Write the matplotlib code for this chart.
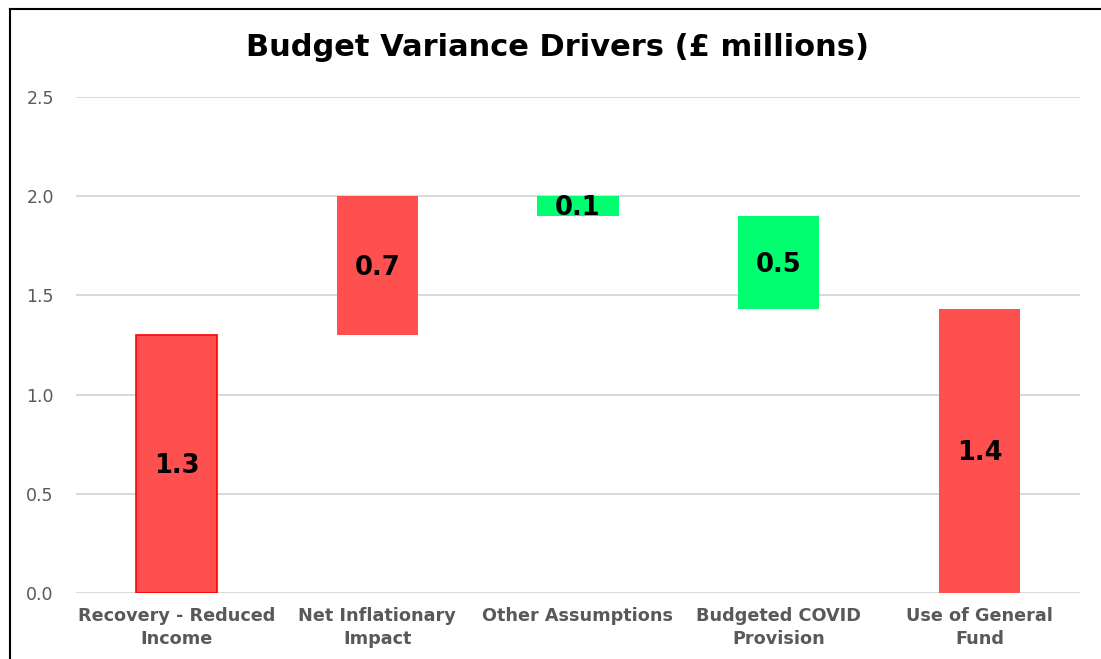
import matplotlib
matplotlib.use("Agg")
import matplotlib.pyplot as plt
from matplotlib.lines import Line2D
from matplotlib.transforms import offset_copy

plt.rcParams['font.family'] = ['DejaVu Sans']

categories = ["Recovery - Reduced\nIncome", "Net Inflationary\nImpact", "Other Assumptions",
              "Budgeted COVID\nProvision", "Use of General\nFund"]
changes = [1.3, 0.7, -0.1, -0.47, 1.43]
is_total = [False, False, False, False, True]
yticks = [0.0, 0.5, 1.0, 1.5, 2.0, 2.5]

RED = "#FF5050"
GREEN = "#00FF70"

fig = plt.figure(figsize=(11.01, 6.59), dpi=100)
ax = fig.add_axes([76/1101, 1-593/659, (1080-76)/1101, (593-97)/659])
label_tr = offset_copy(ax.transData, fig=fig, x=0, y=-2, units="dots")

running = 0.0
for i, (c, tot) in enumerate(zip(changes, is_total)):
    if tot:
        bottom, height = 0.0, c
    else:
        bottom, height = running, c
        running += c
    color = RED if (c > 0) else GREEN
    ec = "#FF0000" if i == 0 else "none"
    ax.bar(i, height, bottom=bottom, width=0.405, color=color, edgecolor=ec,
           linewidth=1.2, zorder=3)
    ax.text(i, bottom + height/2, f"{abs(c):.1f}", ha="center", va="center",
            fontsize=18.5, fontweight="bold", color="black", zorder=4,
            transform=label_tr)

ax.set_xlim(-0.5, 4.5)
ax.set_ylim(0, 2.5)
ax.set_yticks(yticks)
ax.set_yticklabels([f"{v:.1f}" for v in yticks], fontsize=12.5, color="#595959")
ax.set_xticks(range(len(categories)))
ax.set_xticklabels(categories, fontsize=12.7, fontweight="bold", color="#595959",
                   linespacing=1.35)
ax.tick_params(axis="both", length=0)
ax.tick_params(axis="y", pad=16)
ax.tick_params(axis="x", pad=10)
ax.yaxis.grid(True, color="#D9D9D9", linewidth=1.4, zorder=0)
ax.set_axisbelow(True)
for s in ax.spines.values():
    s.set_visible(False)

fig.text(558/1101, 1-48/659, "Budget Variance Drivers (£ millions)", ha="center", va="center",
         fontsize=22, fontweight="bold", color="black")

# outer frame (left and top edges)
fig.add_artist(Line2D([9.5/1101, 9.5/1101], [0, 1-8.5/659], transform=fig.transFigure,
                      color="black", linewidth=1.5))
fig.add_artist(Line2D([9.5/1101, 1], [1-8.5/659, 1-8.5/659], transform=fig.transFigure,
                      color="black", linewidth=1.5))

fig.savefig("out.png", dpi=100)
